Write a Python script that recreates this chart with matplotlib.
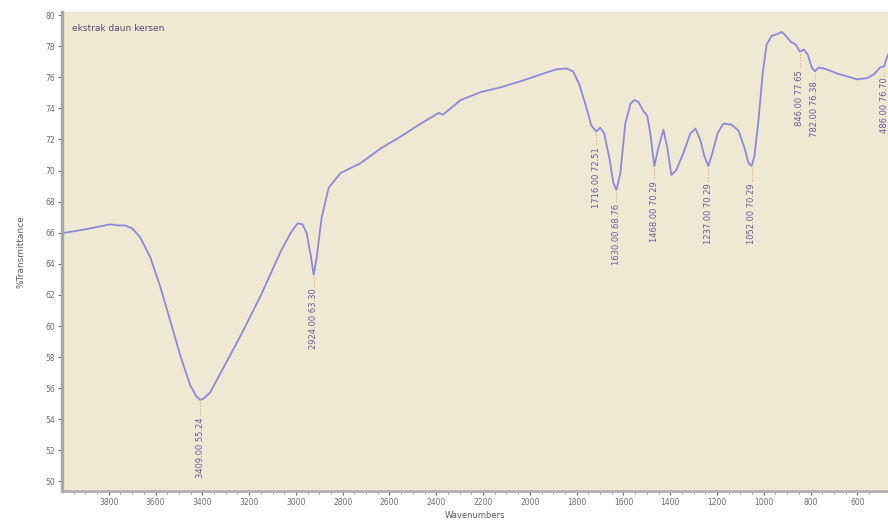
import matplotlib.pyplot as plt
import numpy as np

# FTIR spectrum, wavenumber (cm-1) vs %T
wavenumber = [4000, 3923, 3880, 3837, 3794, 3760, 3730, 3700, 3666, 3623,
              3580, 3537, 3494, 3452, 3426, 3409, 3392, 3366, 3323, 3237,
              3152, 3066, 3023, 2993, 2972, 2954, 2937, 2924, 2912, 2890,
              2860, 2809, 2723, 2637, 2552, 2466, 2389, 2372, 2295, 2209,
              2123, 2038, 1952, 1887, 1845, 1815, 1789, 1763, 1737, 1716,
              1699, 1682, 1660, 1643, 1630, 1613, 1592, 1570, 1553, 1536,
              1515, 1498, 1485, 1468, 1451, 1429, 1412, 1395, 1374, 1344,
              1314, 1292, 1271, 1254, 1237, 1220, 1198, 1173, 1138, 1108,
              1082, 1065, 1052, 1040, 1022, 1005, 988, 966, 941, 923,
              906, 885, 863, 846, 829, 812, 795, 782, 765, 731,
              688, 645, 602, 559, 529, 503, 486, 475, 469]
transmittance = [65.97, 66.16, 66.28, 66.41, 66.54, 66.47, 66.47, 66.28, 65.71, 64.44,
                 62.54, 60.32, 58.09, 56.19, 55.49, 55.24, 55.36, 55.74, 56.95, 59.36,
                 61.90, 64.76, 65.97, 66.60, 66.54, 65.97, 64.57, 63.30, 64.32, 66.98,
                 68.89, 69.84, 70.48, 71.43, 72.19, 73.02, 73.71, 73.59, 74.54, 75.05,
                 75.36, 75.75, 76.19, 76.51, 76.57, 76.38, 75.56, 74.29, 72.89, 72.51,
                 72.76, 72.38, 70.79, 69.21, 68.76, 69.84, 73.02, 74.29, 74.54, 74.41,
                 73.84, 73.52, 72.38, 70.29, 71.43, 72.63, 71.43, 69.71, 70.03, 71.11,
                 72.38, 72.70, 71.94, 70.92, 70.29, 71.11, 72.38, 73.02, 72.95, 72.57,
                 71.43, 70.48, 70.29, 70.92, 73.33, 76.19, 78.10, 78.67, 78.79, 78.92,
                 78.67, 78.29, 78.10, 77.65, 77.78, 77.46, 76.63, 76.38, 76.63, 76.51,
                 76.25, 76.06, 75.87, 75.94, 76.19, 76.63, 76.70, 77.20, 77.46]

peaks = [3409, 2924, 1716, 1630, 1468, 1237, 1052, 846, 782, 486]
peak_drop = [1.0, 0.8, 0.9, 0.8, 0.9, 1.0, 1.0, 1.1, 0.5, 0.6]

xticks = [3800, 3600, 3400, 3200, 3000, 2800, 2600, 2400, 2200, 2000,
          1800, 1600, 1400, 1200, 1000, 800, 600]
yticks = list(range(50, 82, 2))

fig = plt.figure(figsize=(8.88, 5.21), dpi=100)
ax = fig.add_axes([0.0698, 0.058, 0.9302, 0.919])
ax.set_facecolor('#efe9d4')

ax.plot(wavenumber, transmittance, color='#8c88dc', lw=1.3)

# peak labels hanging below each band
for wn, drop in zip(peaks, peak_drop):
    t = np.interp(wn, wavenumber[::-1], transmittance[::-1])
    ax.plot([wn, wn], [t - 0.15, t - drop], color='#d9a04a', lw=0.8, ls=':')
    ax.text(wn, t - drop - 0.1, '%.2f %.2f' % (wn, t), rotation=90,
            ha='center', va='top', fontsize=6, color='#6a5a9a')

ax.text(0.012, 0.965, 'ekstrak daun kersen', transform=ax.transAxes,
        fontsize=6.5, color='#5a4a70', va='center')

ax.set_xlim(4000, 469)
ax.set_ylim(49.4, 80.2)
ax.set_xticks(xticks)
ax.set_xticks(np.arange(550, 4000, 50), minor=True)
ax.set_yticks(yticks)
ax.tick_params(labelsize=5.5, colors='#707070', length=3, width=0.8, pad=2)
ax.tick_params(which='minor', length=2, width=0.6, colors='#909090')

for s in ['top', 'right']:
    ax.spines[s].set_visible(False)
ax.spines['left'].set_color('#a8a8a8')
ax.spines['left'].set_linewidth(2.5)
ax.spines['bottom'].set_color('#b0b0b0')
ax.spines['bottom'].set_linewidth(2)

fig.text(0.535, 0.002, 'Wavenumbers', fontsize=6, color='#606060',
         ha='center', va='bottom')
ax.set_ylabel('%Transmittance', fontsize=6.5, color='#606060', labelpad=14)

fig.savefig('out.png', dpi=100)
